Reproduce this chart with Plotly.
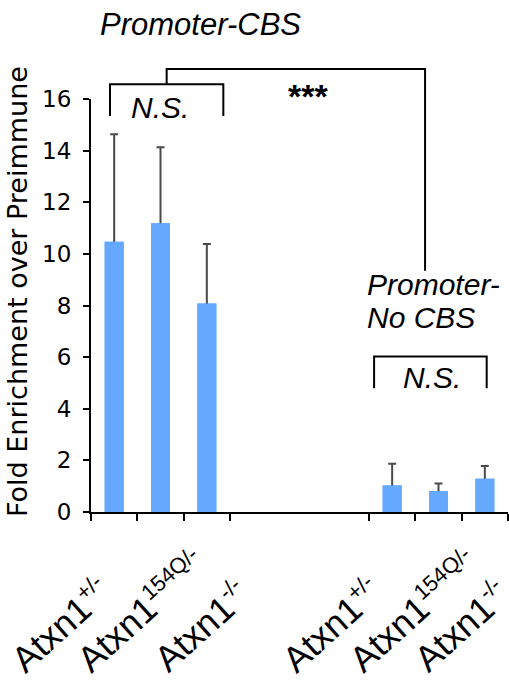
import plotly.graph_objects as go

# ---- data ----
gene = "Atxn1"
genotypes = ["+/-", "154Q/-", "-/-", "+/-", "154Q/-", "-/-"]
bar_pos = [0.5, 1.5, 2.5, 6.5, 7.5, 8.5]
fold_enrichment = [10.47, 11.19, 8.08, 1.03, 0.81, 1.29]
error_up = [4.16, 2.94, 2.30, 0.84, 0.29, 0.49]
y_ticks = [0, 2, 4, 6, 8, 10, 12, 14, 16]
x_ticks = [0, 1, 2, 3, 6, 7, 8, 9]

# ---- layout helpers (positions, not data) ----
label_anchor_x = [-0.2197, -0.0614, 0.1233, 0.4302, 0.5909, 0.7468]
label_anchor_y = [-0.4128, -0.4140, -0.4128, -0.4128, -0.4128, -0.4128]

YMAX = 16.0
BAR_COLOR = "#64A8FF"
SANS = "Liberation Sans, Arial, sans-serif"
VERD = "DejaVu Sans, Verdana, sans-serif"

fig = go.Figure()
# bars carrying the error bars (lower half is hidden by the bars drawn on top)
fig.add_trace(go.Bar(
    x=bar_pos, y=fold_enrichment, width=0.41,
    marker=dict(color=BAR_COLOR, line=dict(width=0)),
    error_y=dict(type="data", array=error_up,
                 color="#4a4a4a", thickness=2, width=4),
    showlegend=False, hoverinfo="skip",
))
fig.add_trace(go.Bar(
    x=bar_pos, y=fold_enrichment, width=0.41,
    marker=dict(color=BAR_COLOR, line=dict(width=0)),
    showlegend=False,
))

def yp(v):
    return v / YMAX

shapes = []
def bracket(x0, x1, ytop, ybot):
    shapes.append(dict(type="path", xref="x", yref="paper",
                       path=f"M {x0},{yp(ybot)} L {x0},{yp(ytop)} L {x1},{yp(ytop)} L {x1},{yp(ybot)}",
                       line=dict(color="black", width=2)))

bracket(0.41, 2.856, 16.57, 15.34)
shapes.append(dict(type="path", xref="x", yref="paper",
                   path=f"M 1.633,{yp(16.57)} L 1.633,{yp(17.16)} L 7.21,{yp(17.16)} L 7.21,{yp(9.35)}",
                   line=dict(color="black", width=2)))
bracket(6.11, 8.54, 6.02, 4.79)

ann = []
def txt(x, y, s, size=30, italic=True, xanchor="center", bold=False):
    if italic:
        s = f"<i>{s}</i>"
    if bold:
        s = f"<b>{s}</b>"
    ann.append(dict(x=x, y=yp(y), xref="x", yref="paper", text=s, showarrow=False,
                    xanchor=xanchor, yanchor="middle",
                    font=dict(family=SANS, size=size, color="black")))

txt(0.15, 18.89, "Promoter-CBS", size=31, xanchor="left")
txt(1.49, 15.69, "N.S.")
txt(4.69, 16.1, "***", size=34, italic=False, bold=True)
txt(5.91, 8.83, "Promoter-", xanchor="left")
txt(5.91, 7.54, "No CBS", xanchor="left")
txt(7.35, 5.23, "N.S.")

for g, ax, ay in zip(genotypes, label_anchor_x, label_anchor_y):
    label = f'{gene}<sup><span style="font-size:22px">{g}</span></sup>'
    ann.append(dict(x=ax, y=ay, xref="paper", yref="paper", text=label, showarrow=False,
                    textangle=-42, xanchor="left", yanchor="bottom",
                    font=dict(family=SANS, size=36, color="black")))

ann.append(dict(x=-0.1775, y=0.535, xref="paper", yref="paper",
                text="Fold Enrichment over Preimmune", showarrow=False,
                textangle=-90, xanchor="center", yanchor="middle",
                font=dict(family=VERD, size=27, color="black")))

fig.update_layout(
    width=509, height=680,
    margin=dict(l=91, r=1, t=99, b=168),
    plot_bgcolor="white", paper_bgcolor="white",
    barmode="overlay",
    shapes=shapes, annotations=ann,
    xaxis=dict(range=[0, 9], tickmode="array", tickvals=x_ticks, showticklabels=False,
               ticks="outside", ticklen=7, tickwidth=2, tickcolor="black",
               showline=True, linecolor="black", linewidth=2, showgrid=False,
               zeroline=False, fixedrange=True),
    yaxis=dict(range=[0, YMAX], tickmode="array", tickvals=y_ticks,
               ticks="outside", ticklen=6, tickwidth=2, tickcolor="black",
               showline=True, linecolor="black", linewidth=2, showgrid=False,
               zeroline=False, tickfont=dict(family=VERD, size=23, color="black"),
               ticklabelstandoff=7, fixedrange=True),
)

fig.write_html("out.html", config={"displayModeBar": False},
               post_script="document.body.style.margin='0px';document.body.style.overflow='hidden';")
